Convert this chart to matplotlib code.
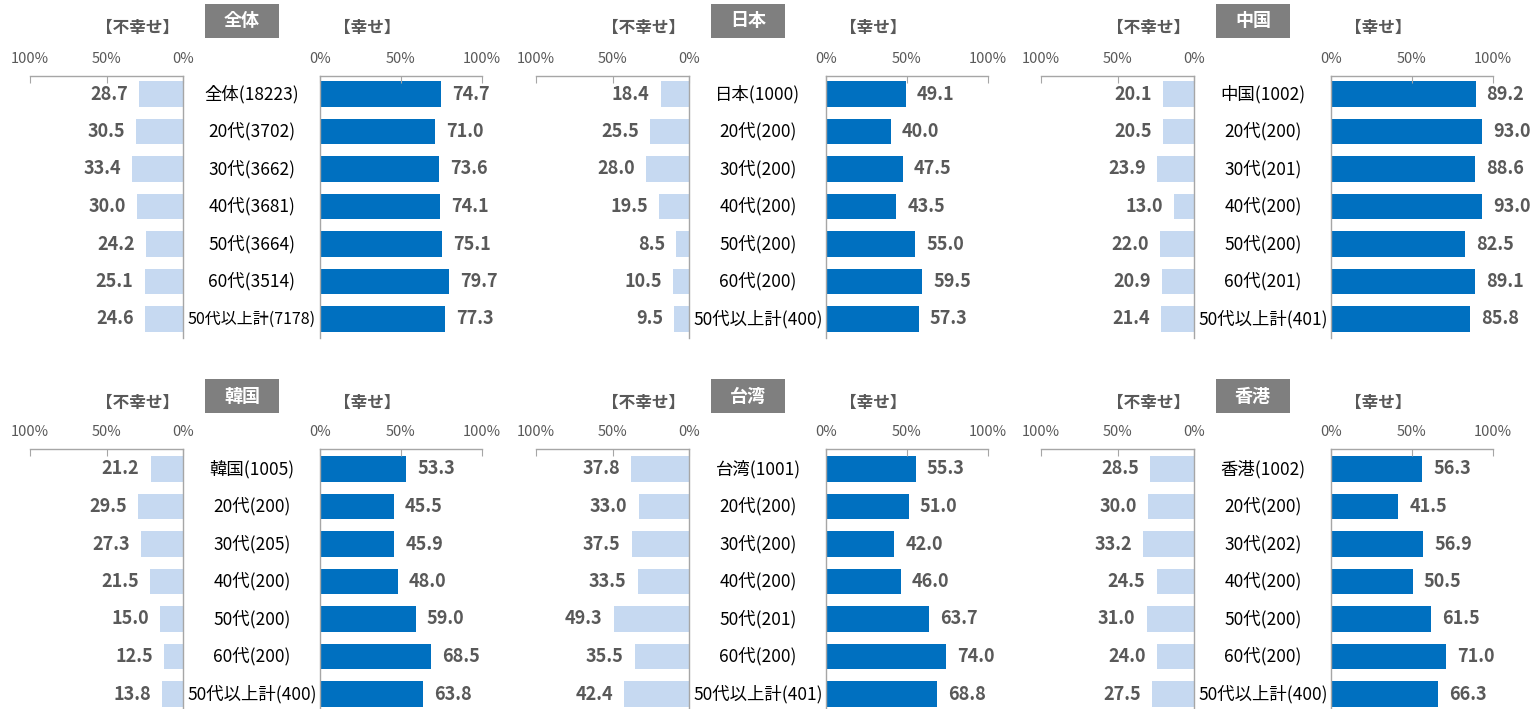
import matplotlib
matplotlib.use("Agg")
import matplotlib.pyplot as plt
import matplotlib.patches as patches
import matplotlib.transforms as transforms

plt.rcParams['font.family'] = ['Noto Sans CJK JP', 'DejaVu Sans']

# 地域ごとのデータ（不幸せ / 幸せ の割合, %）
regions = ["全体", "日本", "中国", "韓国", "台湾", "香港"]

labels_all = ["全体(18223)", "20代(3702)", "30代(3662)", "40代(3681)", "50代(3664)", "60代(3514)", "50代以上計(7178)"]
unhappy_all = [28.7, 30.5, 33.4, 30.0, 24.2, 25.1, 24.6]
happy_all = [74.7, 71.0, 73.6, 74.1, 75.1, 79.7, 77.3]

labels_jp = ["日本(1000)", "20代(200)", "30代(200)", "40代(200)", "50代(200)", "60代(200)", "50代以上計(400)"]
unhappy_jp = [18.4, 25.5, 28.0, 19.5, 8.5, 10.5, 9.5]
happy_jp = [49.1, 40.0, 47.5, 43.5, 55.0, 59.5, 57.3]

labels_cn = ["中国(1002)", "20代(200)", "30代(201)", "40代(200)", "50代(200)", "60代(201)", "50代以上計(401)"]
unhappy_cn = [20.1, 20.5, 23.9, 13.0, 22.0, 20.9, 21.4]
happy_cn = [89.2, 93.0, 88.6, 93.0, 82.5, 89.1, 85.8]

labels_kr = ["韓国(1005)", "20代(200)", "30代(205)", "40代(200)", "50代(200)", "60代(200)", "50代以上計(400)"]
unhappy_kr = [21.2, 29.5, 27.3, 21.5, 15.0, 12.5, 13.8]
happy_kr = [53.3, 45.5, 45.9, 48.0, 59.0, 68.5, 63.8]

labels_tw = ["台湾(1001)", "20代(200)", "30代(200)", "40代(200)", "50代(201)", "60代(200)", "50代以上計(401)"]
unhappy_tw = [37.8, 33.0, 37.5, 33.5, 49.3, 35.5, 42.4]
happy_tw = [55.3, 51.0, 42.0, 46.0, 63.7, 74.0, 68.8]

labels_hk = ["香港(1002)", "20代(200)", "30代(202)", "40代(200)", "50代(200)", "60代(200)", "50代以上計(400)"]
unhappy_hk = [28.5, 30.0, 33.2, 24.5, 31.0, 24.0, 27.5]
happy_hk = [56.3, 41.5, 56.9, 50.5, 61.5, 71.0, 66.3]

panels = [
    (labels_all, unhappy_all, happy_all),
    (labels_jp, unhappy_jp, happy_jp),
    (labels_cn, unhappy_cn, happy_cn),
    (labels_kr, unhappy_kr, happy_kr),
    (labels_tw, unhappy_tw, happy_tw),
    (labels_hk, unhappy_hk, happy_hk),
]

DARK = "#0070C0"
LIGHT = "#C6D9F1"
AXIS = "#A6A6A6"
TEXT = "#595959"

W, H = 1531, 709
fig = plt.figure(figsize=(W / 100, H / 100), dpi=100)

col_off = [0, 506, 1011]
row_top = [76, 449]      # axis line (pixels from top)
row_bottom = [338, 709]
row_bar0 = [94, 469]     # centre of first bar
row_off = [0, 375]
step = 37.5


def px_axes(x0, x1, y0, y1):
    return fig.add_axes([x0 / W, 1 - y1 / H, (x1 - x0) / W, (y1 - y0) / H])


def style_axis(ax, side):
    for s in ax.spines.values():
        s.set_visible(False)
    ax.spines['top'].set_visible(True)
    ax.spines[side].set_visible(True)
    for s in ('top', side):
        ax.spines[s].set_color(AXIS)
        ax.spines[s].set_linewidth(1.0)
    ax.xaxis.tick_top()
    ax.set_xticks([0, 50, 100])
    ax.set_xticklabels(["0%", "50%", "100%"])
    ax.tick_params(axis='x', direction='in', length=5, color=AXIS, pad=7,
                   labelsize=10.5, labelcolor=TEXT)
    ax.set_yticks([])


for k, (labels, unhappy, happy) in enumerate(panels):
    r, c = divmod(k, 3)
    off = col_off[c]
    top, bottom, bar0 = row_top[r], row_bottom[r], row_bar0[r]
    y_lo = (top - bar0) / step
    y_hi = (bottom - bar0) / step
    ys = list(range(len(labels)))

    # 不幸せ（左側、右から左へ伸びる）
    axL = px_axes(30 + off, 183 + off, top, bottom)
    axL.barh(ys, unhappy, height=0.67, color=LIGHT)
    axL.set_xlim(100, 0)
    axL.set_ylim(y_hi, y_lo)
    style_axis(axL, 'right')
    for y, v in zip(ys, unhappy):
        axL.annotate(f"{v:.1f}", xy=(v, y), xytext=(-8, 0), textcoords='offset points',
                     ha='right', va='center', fontsize=13, fontweight='bold', color=TEXT)

    # 幸せ（右側）
    axR = px_axes(320 + off, 482 + off, top, bottom)
    axR.barh(ys, happy, height=0.67, color=DARK)
    axR.set_xlim(0, 100)
    axR.set_ylim(y_hi, y_lo)
    style_axis(axR, 'left')
    for y, v in zip(ys, happy):
        axR.annotate(f"{v:.1f}", xy=(v, y), xytext=(8, 0), textcoords='offset points',
                     ha='left', va='center', fontsize=13, fontweight='bold', color=TEXT)

    # カテゴリ名（二つの軸の間）
    trans = transforms.blended_transform_factory(fig.transFigure, axR.transData)
    for y, lab in zip(ys, labels):
        fs = 11.5 if len(lab) > 11 else 12.5
        fig.text((252 + off) / W, y, lab, transform=trans, ha='center', va='center',
                 fontsize=fs, color='black')

    # 見出し
    ro = row_off[r]
    fig.add_artist(patches.Rectangle(((205 + off) / W, 1 - (38 + ro) / H), 74 / W, 34 / H,
                                     transform=fig.transFigure, facecolor='#7F7F7F',
                                     edgecolor='none'))
    fig.text((242 + off) / W, 1 - (21 + ro) / H, regions[k], ha='center', va='center',
             fontsize=13, fontweight='bold', color='white')
    fig.text((138 + off) / W, 1 - (28 + ro) / H, "【不幸せ】", ha='center', va='center',
             fontsize=12, fontweight='bold', color=TEXT)
    fig.text((367 + off) / W, 1 - (28 + ro) / H, "【幸せ】", ha='center', va='center',
             fontsize=12, fontweight='bold', color=TEXT)

fig.savefig("out.png", dpi=100)
